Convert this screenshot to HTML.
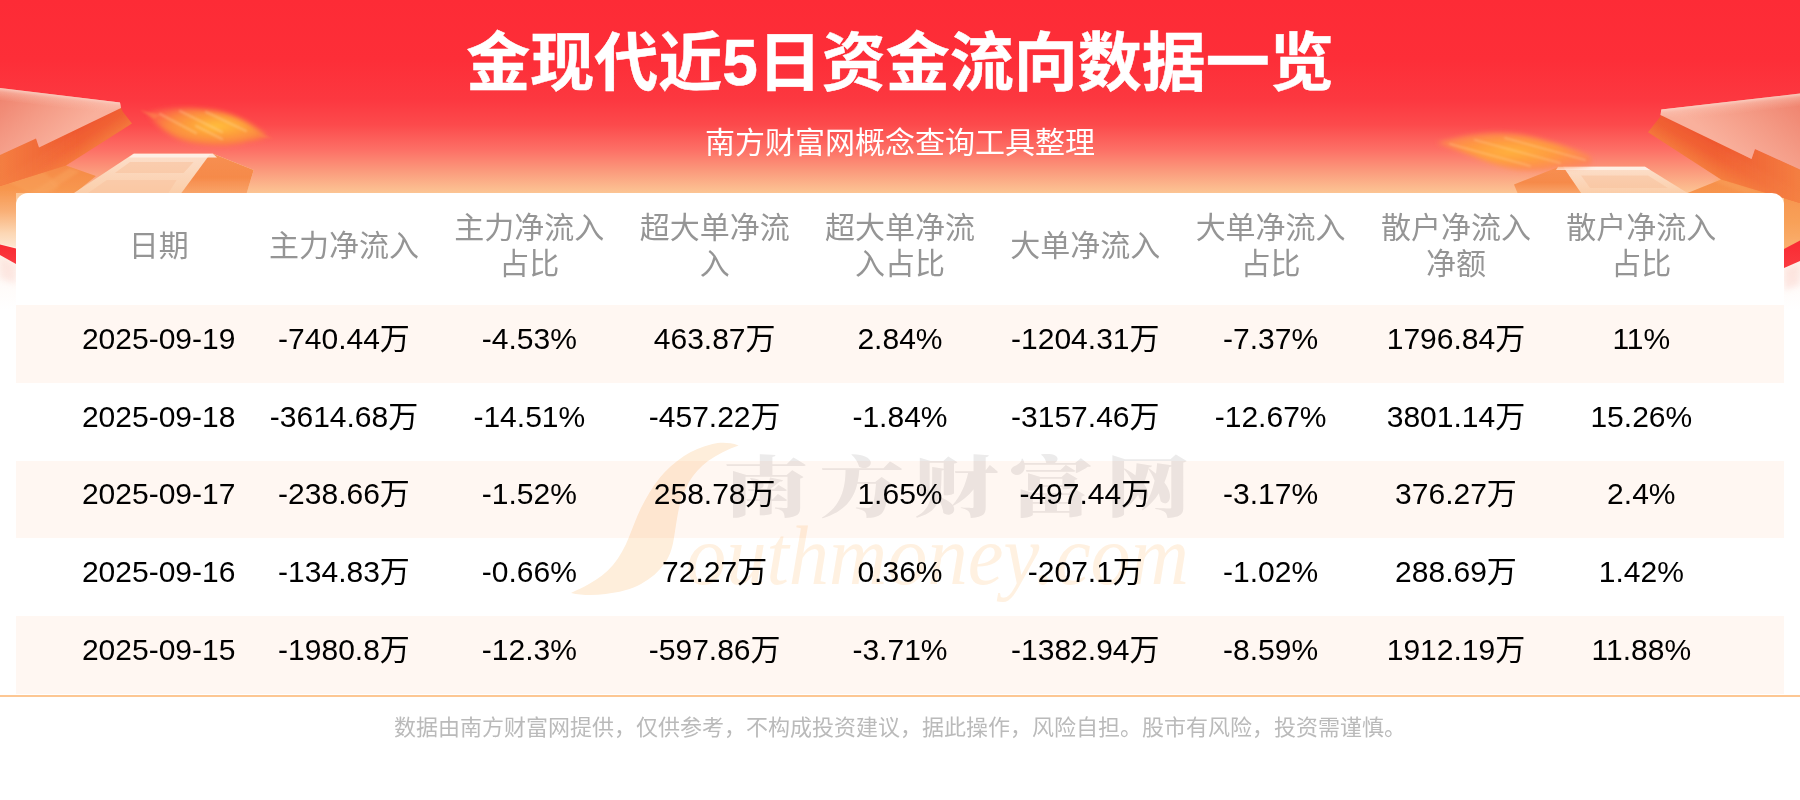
<!DOCTYPE html>
<html lang="zh-CN">
<head>
<meta charset="utf-8">
<title>金现代近5日资金流向数据一览</title>
<style>
*{margin:0;padding:0;box-sizing:border-box}
html,body{width:1800px;height:800px;overflow:hidden;background:#fff}
body{font-family:"Liberation Sans","Noto Sans CJK SC",sans-serif;position:relative}
#bg{position:absolute;left:0;top:0;width:1800px;height:800px;
 background:linear-gradient(to bottom,#fd2b36 0px,#fd2e38 60px,#fc3840 100px,#fc4a4c 125px,#fd7066 150px,#fb987b 170px,#fcc594 193px,#fde3c8 225px,#fef3ea 255px,#fffbf9 285px,#ffffff 310px)}
#deco{position:absolute;left:0;top:0;width:1800px;height:800px}
h1{position:absolute;left:0;top:0;width:1800px;text-align:center;color:#fff;font-size:64px;font-weight:bold;line-height:126px;white-space:nowrap;-webkit-text-stroke:0.5px #fff}
h2{position:absolute;left:0;top:121px;width:1800px;text-align:center;color:#fff;font-size:30px;font-weight:normal;line-height:44px;white-space:nowrap}
#card{position:absolute;left:16px;top:193px;width:1768px;height:501px;background:#fff;border-radius:12px 12px 0 0;overflow:hidden}
table{position:absolute;left:0;top:0;width:1768px;border-collapse:collapse;table-layout:fixed}
th{height:112px;font-weight:normal;color:#959595;font-size:30px;line-height:36px;text-align:center;vertical-align:middle;padding:0 16px 6px}
td{height:78px;font-size:30px;line-height:36px;color:#000;text-align:center;vertical-align:middle;white-space:nowrap;padding:0 0 11px}
tr.s td{background:#fff7f2}
tr.h77 td{height:77px}
.pad{width:50px;padding:0}
#wm{position:absolute;left:0;top:0;width:1800px;height:800px;mix-blend-mode:multiply;pointer-events:none}
#line{position:absolute;left:0;top:695px;width:1800px;height:2px;background:#fdc793}
#foot{position:absolute;left:0;top:712px;width:1800px;text-align:center;font-size:22px;line-height:32px;color:#bababa;white-space:nowrap}
</style>
</head>
<body>
<div id="bg"></div>
<svg id="deco" viewBox="0 0 1800 800">
<defs>
<filter id="b1" x="-20%" y="-20%" width="140%" height="140%"><feGaussianBlur stdDeviation="0.7"/></filter>
<filter id="b2" x="-20%" y="-20%" width="140%" height="140%"><feGaussianBlur stdDeviation="1.6"/></filter>
<filter id="b25" x="-20%" y="-40%" width="140%" height="180%"><feGaussianBlur stdDeviation="2.4"/></filter>
<filter id="b12" x="-20%" y="-40%" width="140%" height="180%"><feGaussianBlur stdDeviation="1.1"/></filter>
<filter id="b4" x="-30%" y="-60%" width="160%" height="220%"><feGaussianBlur stdDeviation="3.2"/></filter>
<linearGradient id="ltop" gradientUnits="userSpaceOnUse" x1="0" y1="92" x2="50" y2="152"><stop offset="0" stop-color="#ef826d"/><stop offset="0.5" stop-color="#f49a85"/><stop offset="1" stop-color="#f9b09c"/></linearGradient>
<linearGradient id="lhl" gradientUnits="userSpaceOnUse" x1="60" y1="95" x2="58.5" y2="108"><stop offset="0" stop-color="#fcd6cb" stop-opacity="0.85"/><stop offset="0.3" stop-color="#fbc4b5" stop-opacity="0.5"/><stop offset="1" stop-color="#f9b09c" stop-opacity="0"/></linearGradient>
<linearGradient id="rhl" gradientUnits="userSpaceOnUse" x1="1730" y1="101.5" x2="1731.5" y2="114.5"><stop offset="0" stop-color="#fcd6cb" stop-opacity="0.85"/><stop offset="0.3" stop-color="#fbc4b5" stop-opacity="0.5"/><stop offset="1" stop-color="#f9b09c" stop-opacity="0"/></linearGradient>
<linearGradient id="lside" gradientUnits="userSpaceOnUse" x1="80" y1="125.5" x2="97" y2="152"><stop offset="0" stop-color="#ee562e"/><stop offset="0.45" stop-color="#f16234"/><stop offset="1" stop-color="#f5803f"/></linearGradient>
<linearGradient id="lfade" gradientUnits="userSpaceOnUse" x1="0" y1="0" x2="80" y2="0"><stop offset="0" stop-color="#f68c48" stop-opacity="0.75"/><stop offset="1" stop-color="#f68c48" stop-opacity="0"/></linearGradient>
<linearGradient id="rfade" gradientUnits="userSpaceOnUse" x1="1800" y1="0" x2="1715" y2="0"><stop offset="0" stop-color="#f68c48" stop-opacity="0.75"/><stop offset="1" stop-color="#f68c48" stop-opacity="0"/></linearGradient>
<linearGradient id="llow" gradientUnits="userSpaceOnUse" x1="0" y1="160" x2="0" y2="246"><stop offset="0" stop-color="#f58645"/><stop offset="0.35" stop-color="#f7974f"/><stop offset="0.6" stop-color="#f9b077"/><stop offset="0.85" stop-color="#fcd7b4"/><stop offset="1" stop-color="#fde6d0"/></linearGradient>
<linearGradient id="rtop" gradientUnits="userSpaceOnUse" x1="1800" y1="98" x2="1745" y2="165"><stop offset="0" stop-color="#ef826d"/><stop offset="0.5" stop-color="#f49a85"/><stop offset="1" stop-color="#f9b09c"/></linearGradient>
<linearGradient id="rside" gradientUnits="userSpaceOnUse" x1="1706" y1="135" x2="1690" y2="163"><stop offset="0" stop-color="#ee562e"/><stop offset="0.45" stop-color="#f16234"/><stop offset="1" stop-color="#f5803f"/></linearGradient>
<linearGradient id="rlow" gradientUnits="userSpaceOnUse" x1="0" y1="165" x2="0" y2="250"><stop offset="0" stop-color="#f58645"/><stop offset="0.35" stop-color="#f7954e"/><stop offset="0.7" stop-color="#f8a25a"/><stop offset="1" stop-color="#fab070"/></linearGradient>
<linearGradient id="rib2" x1="0" y1="0" x2="0" y2="1"><stop offset="0" stop-color="#f92a32"/><stop offset="1" stop-color="#fa3a40"/></linearGradient>
<linearGradient id="cardL" x1="0" y1="0" x2="0" y2="1"><stop offset="0" stop-color="#fcdfcb"/><stop offset="1" stop-color="#fbceaa"/></linearGradient>
<linearGradient id="cardS" x1="0" y1="0" x2="0" y2="1"><stop offset="0" stop-color="#f78f52"/><stop offset="0.6" stop-color="#f68a4a"/><stop offset="1" stop-color="#f9a468"/></linearGradient>
<radialGradient id="glow" cx="0.58" cy="0.48" r="0.6"><stop offset="0" stop-color="#ffc03c"/><stop offset="0.3" stop-color="#fea83a"/><stop offset="0.7" stop-color="#fc8c40" stop-opacity="0.95"/><stop offset="1" stop-color="#fd6e48" stop-opacity="0.7"/></radialGradient>
<radialGradient id="glow2" cx="0.48" cy="0.5" r="0.6"><stop offset="0" stop-color="#ffb23c"/><stop offset="0.5" stop-color="#ff9c40" stop-opacity="0.95"/><stop offset="1" stop-color="#fd8254" stop-opacity="0.75"/></radialGradient>
<linearGradient id="rib" x1="0" y1="0" x2="0" y2="1"><stop offset="0" stop-color="#f8303a"/><stop offset="0.55" stop-color="#fa3e45"/><stop offset="1" stop-color="#fd8f8c" stop-opacity="0.25"/></linearGradient>
</defs>
<!-- LEFT -->
<g id="L">
<polygon points="0,150 66,150 66,165.5 96,176 75,193 16,193 16,247 0,244" fill="url(#llow)" filter="url(#b1)"/>
<polygon points="30,193 70,168 80,171.5 46,193" fill="#f9a660" opacity="0.45" filter="url(#b2)"/>
<polygon points="0,168 30,160 60,186 52,193 30,193 0,178" fill="#f9a660" opacity="0.35" filter="url(#b2)"/>
<polygon points="0,153 36,138 39,147 119,104 123,112 132,123.5 66,165.5 0,186" fill="url(#lside)" filter="url(#b1)"/>
<polygon points="0,153 36,138 39,147 80,125 80,157 66,165.5 0,186" fill="url(#lfade)" filter="url(#b1)"/>
<polygon points="0,88 120,102.5 121,108 39,147.5 36,138.5 0,155" fill="url(#ltop)" filter="url(#b1)"/>
<polygon points="0,88 120,102.5 121,108 100,112 0,100" fill="url(#lhl)" filter="url(#b1)"/>
<polygon points="0,256 16,265 16,284 0,278" fill="#fbd5cf" opacity="0.5" filter="url(#b4)"/>
<polygon points="0,244.5 16,248.5 16,264 0,255" fill="url(#rib2)"/>
<polygon points="133.5,153.8 213,153.8 253.7,170 246.7,193 74,193" fill="url(#cardL)" filter="url(#b1)"/>
<polygon points="209.4,155 213,153.8 253.7,170 246.7,193 181.4,193" fill="url(#cardS)" filter="url(#b1)"/>
<polygon points="130,162 193.6,162 183.7,173 114.8,173" fill="#f9c19c" opacity="0.55" filter="url(#b1)"/>
<polygon points="106.7,180 176.7,180 168.5,193 88,193" fill="#f9c19c" opacity="0.45" filter="url(#b1)"/>
<polygon points="134,153.8 213,153.8 217,157.6 129,157.6" fill="#fff3ea" opacity="0.85" filter="url(#b1)"/>
<g>
<path d="M148,113 C165,108 185,107.5 195,108.5 C205,109.5 212,110 218,111.3 C240,116 256,127 267,136.2 C262,139 255,140.5 249,141 C240,144 228,146 218,145.5 C207,145 196,144 187,141.7 C172,137 160,128 154,121.4 C152,119 150,116 148,113Z" fill="url(#glow)" filter="url(#b25)"/>
<path d="M140,110 L160,115 L154,119Z M258,133 L274,139 L262,137Z" fill="#fd8a50" opacity="0.5" filter="url(#b12)"/>
<g stroke="#ffe2b0" stroke-width="2.2" opacity="0.3" filter="url(#b12)" stroke-linecap="round"><line x1="160" y1="114" x2="196" y2="133"/><line x1="180" y1="111" x2="222" y2="132"/><line x1="206" y1="112" x2="246" y2="131"/><line x1="196" y1="126" x2="222" y2="139"/></g>
</g>
</g>
</g>
<!-- RIGHT -->
<g id="R">
<polygon points="1800,165 1721,165 1721,179.5 1687.5,193 1784,193 1784,250 1800,241" fill="url(#rlow)" filter="url(#b1)"/>
<polygon points="1745,193 1712,181 1722,177 1762,193" fill="#f9a660" opacity="0.4" filter="url(#b2)"/>
<polygon points="1800,169.5 1755,149 1751.5,159 1662,111 1660,117 1648,132.3 1721,179.5 1800,203" fill="url(#rside)" filter="url(#b1)"/>
<polygon points="1800,169.5 1755,149 1751.5,159 1715,139 1715,176 1721,179.5 1800,203" fill="url(#rfade)" filter="url(#b1)"/>
<polygon points="1800,93.5 1661.3,109.5 1660.5,115 1751.5,159 1755,149 1800,169.5" fill="url(#rtop)" filter="url(#b1)"/>
<polygon points="1800,93.5 1661.3,109.5 1660.5,115 1684,120 1800,106" fill="url(#rhl)" filter="url(#b1)"/>
<polygon points="1800,262 1784,269 1784,290 1800,285" fill="#fbd5cf" opacity="0.55" filter="url(#b4)"/>
<polygon points="1800,240.5 1784,249 1784,268 1800,261" fill="url(#rib2)"/>
<polygon points="1563,166.7 1645,166.7 1687.5,193 1581,193" fill="url(#cardL)" filter="url(#b1)"/>
<polygon points="1557,167.5 1563,166.7 1581,193 1517.5,193 1514,184.4" fill="url(#cardS)" filter="url(#b1)"/>
<polygon points="1581,175.5 1648,175.5 1668,188 1590,188" fill="#f9c19c" opacity="0.5" filter="url(#b1)"/>
<polygon points="1558,166.7 1645,166.7 1650,170 1556,170" fill="#fff3ea" opacity="0.85" filter="url(#b1)"/>
<g>
<path d="M1436.7,142.8 C1460,136 1482,132.5 1498,132.8 C1510,133 1522,134.5 1531,136.7 C1555,142.5 1578,150 1591,156.7 L1591,164.4 C1580,166.5 1570,167.5 1559,167.8 C1546,170 1532,171 1520,170 C1503,167.5 1488,162 1475.6,156.7 C1462,152 1448,147 1436.7,142.8Z" fill="url(#glow2)" filter="url(#b25)"/>
<g stroke="#ffdca8" stroke-width="1.8" opacity="0.35" filter="url(#b12)" stroke-linecap="round"><line x1="1450" y1="144" x2="1530" y2="166"/><line x1="1475" y1="140" x2="1560" y2="163"/><line x1="1505" y1="138" x2="1585" y2="160"/></g>
</g>
</g>
</g>
</svg>
<h1>金现代近5日资金流向数据一览</h1>
<h2>南方财富网概念查询工具整理</h2>
<div id="card">
<table>
<colgroup><col style="width:50px"><col><col><col><col><col><col><col><col><col><col style="width:50px"></colgroup>
<tr><th class="pad"></th><th>日期</th><th>主力净流入</th><th>主力净流入占比</th><th>超大单净流入</th><th>超大单净流入占比</th><th>大单净流入</th><th>大单净流入占比</th><th>散户净流入净额</th><th>散户净流入占比</th><th class="pad"></th></tr>
<tr class="s"><td></td><td>2025-09-19</td><td>-740.44万</td><td>-4.53%</td><td>463.87万</td><td>2.84%</td><td>-1204.31万</td><td>-7.37%</td><td>1796.84万</td><td>11%</td><td></td></tr>
<tr><td></td><td>2025-09-18</td><td>-3614.68万</td><td>-14.51%</td><td>-457.22万</td><td>-1.84%</td><td>-3157.46万</td><td>-12.67%</td><td>3801.14万</td><td>15.26%</td><td></td></tr>
<tr class="s h77"><td></td><td>2025-09-17</td><td>-238.66万</td><td>-1.52%</td><td>258.78万</td><td>1.65%</td><td>-497.44万</td><td>-3.17%</td><td>376.27万</td><td>2.4%</td><td></td></tr>
<tr><td></td><td>2025-09-16</td><td>-134.83万</td><td>-0.66%</td><td>72.27万</td><td>0.36%</td><td>-207.1万</td><td>-1.02%</td><td>288.69万</td><td>1.42%</td><td></td></tr>
<tr class="s"><td></td><td>2025-09-15</td><td>-1980.8万</td><td>-12.3%</td><td>-597.86万</td><td>-3.71%</td><td>-1382.94万</td><td>-8.59%</td><td>1912.19万</td><td>11.88%</td><td></td></tr>
</table>
</div>
<svg id="wm" viewBox="0 0 1800 800">
<path d="M738.6,445.4 C728,442 720,442.5 712.5,444 C702,446.5 692,450.5 684,456 C674,463 666,470 660,477.5 C652,487.5 646,498 641,508 C636,518 633,527.5 629,537 C625,547 620,556.5 613,565 C606,573 598,579 589,584 C583,587.5 577,590 571,593 C582,595.5 594,595.5 605.6,594 C618,592.5 631,589.5 641,584 C651,578.5 659,571.5 665,563 C671,554.5 673,544.5 674.5,534.5 C676,525.5 677,517 679,508 C681,499 684.5,490 689,482 C694,473.5 700.5,466.5 708,461 C717,454.5 728,449 738.6,445.4Z" fill="#feeedb"/>
<text x="686" y="584.4" font-family="'Liberation Serif','DejaVu Serif',serif" font-style="italic" font-size="84" fill="#fff1e1" textLength="503" lengthAdjust="spacingAndGlyphs">outhmoney.com</text>
<g font-family="'Noto Serif CJK SC','Noto Sans CJK SC',serif" font-weight="900" font-size="80" fill="#ecebeb" text-anchor="middle">
<text transform="translate(766,511.3) scale(1.06,0.83)">南</text>
<text transform="translate(862,511.3) scale(1.06,0.83)">方</text>
<text transform="translate(956,511.3) scale(1.06,0.83)">财</text>
<text transform="translate(1051,511.3) scale(1.06,0.83)">富</text>
<text transform="translate(1148,511.3) scale(1.06,0.83)">网</text>
</g>
</svg>
<div id="line"></div>
<div id="foot">数据由南方财富网提供，仅供参考，不构成投资建议，据此操作，风险自担。股市有风险，投资需谨慎。</div>
</body>
</html>
